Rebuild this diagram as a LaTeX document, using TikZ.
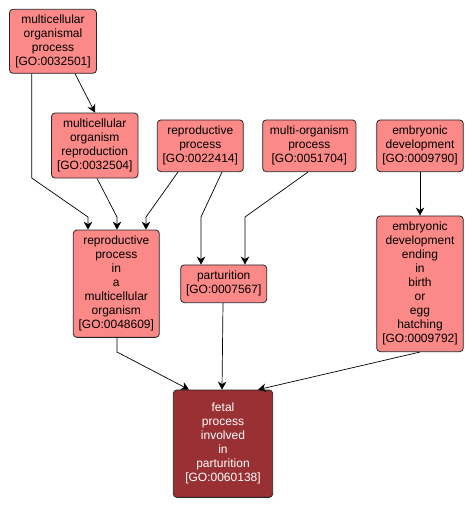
\documentclass[tikz,border=0pt]{standalone}
\usepackage{fontspec}
\setmainfont{Liberation Sans}
\usetikzlibrary{arrows.meta}
\definecolor{lightgo}{RGB}{250,137,135}
\definecolor{darkgo}{RGB}{153,48,51}
\begin{document}
\begin{tikzpicture}[x=1pt,y=-1pt,
  gobox/.style={draw=black!85,line width=0.8pt,fill=lightgo,rounded corners=3.5pt,align=center,inner sep=0pt,font=\fontsize{12}{14}\selectfont},
  gomain/.style={gobox,fill=darkgo,text=white},
  conn/.style={draw=black,line width=0.7pt,-{Stealth[length=8pt,width=8.5pt,inset=2.5pt]}}]
\useasboundingbox (0,0) rectangle (473,509);
\node[gobox,minimum width=87pt,minimum height=64pt] (A) at (53,41.3) {multicellular\\organismal\\process\\{[}GO:0032501{]}};
\node[gobox,minimum width=86.5pt,minimum height=65pt] (B) at (94.75,145.5) {multicellular\\organism\\reproduction\\{[}GO:0032504{]}};
\node[gobox,minimum width=86pt,minimum height=51.7pt] (C) at (200.3,145.8) {reproductive\\process\\{[}GO:0022414{]}};
\node[gobox,minimum width=93.3pt,minimum height=51.7pt] (D) at (309.3,145.8) {multi-organism\\process\\{[}GO:0051704{]}};
\node[gobox,minimum width=86.6pt,minimum height=51.7pt] (E) at (420,145.8) {embryonic\\development\\{[}GO:0009790{]}};
\node[gobox,minimum width=86.6pt,minimum height=135.7pt] (F) at (420,283.8) {embryonic\\development\\ending\\in\\birth\\or\\egg\\hatching\\{[}GO:0009792{]}};
\node[gobox,minimum width=86pt,minimum height=37.7pt] (G) at (223.7,283.8) {parturition\\{[}GO:0007567{]}};
\node[gobox,minimum width=86pt,minimum height=107.3pt] (H) at (116.3,283.7) {reproductive\\process\\in\\a\\multicellular\\organism\\{[}GO:0048609{]}};
\node[gomain,minimum width=99.4pt,minimum height=107.3pt] (I) at (223,443.7) {fetal\\process\\involved\\in\\parturition\\{[}GO:0060138{]}};
\draw[conn] (31.7,0 |- A.south) -- (31.7,178) -- (88,217) -- (88,0 |- H.north);
\draw[conn] (75,0 |- A.south) -- (95,0 |- B.north);
\draw[conn] (97,0 |- B.south) -- (117,217) -- (117,0 |- H.north);
\draw[conn] (178,0 |- C.south) -- (146,217) -- (146,0 |- H.north);
\draw[conn] (222,0 |- C.south) -- (201,217) -- (201,0 |- G.north);
\draw[conn] (308,0 |- D.south) -- (245,217) -- (245,0 |- G.north);
\draw[conn] (E.south) -- (F.north);
\draw[conn] (117,0 |- H.south) -- (117,352) -- (189,0 |- I.north);
\draw[conn] (223,0 |- G.south) -- (222,0 |- I.north);
\draw[conn] (420,0 |- F.south) -- (258,0 |- I.north);
\end{tikzpicture}
\end{document}
